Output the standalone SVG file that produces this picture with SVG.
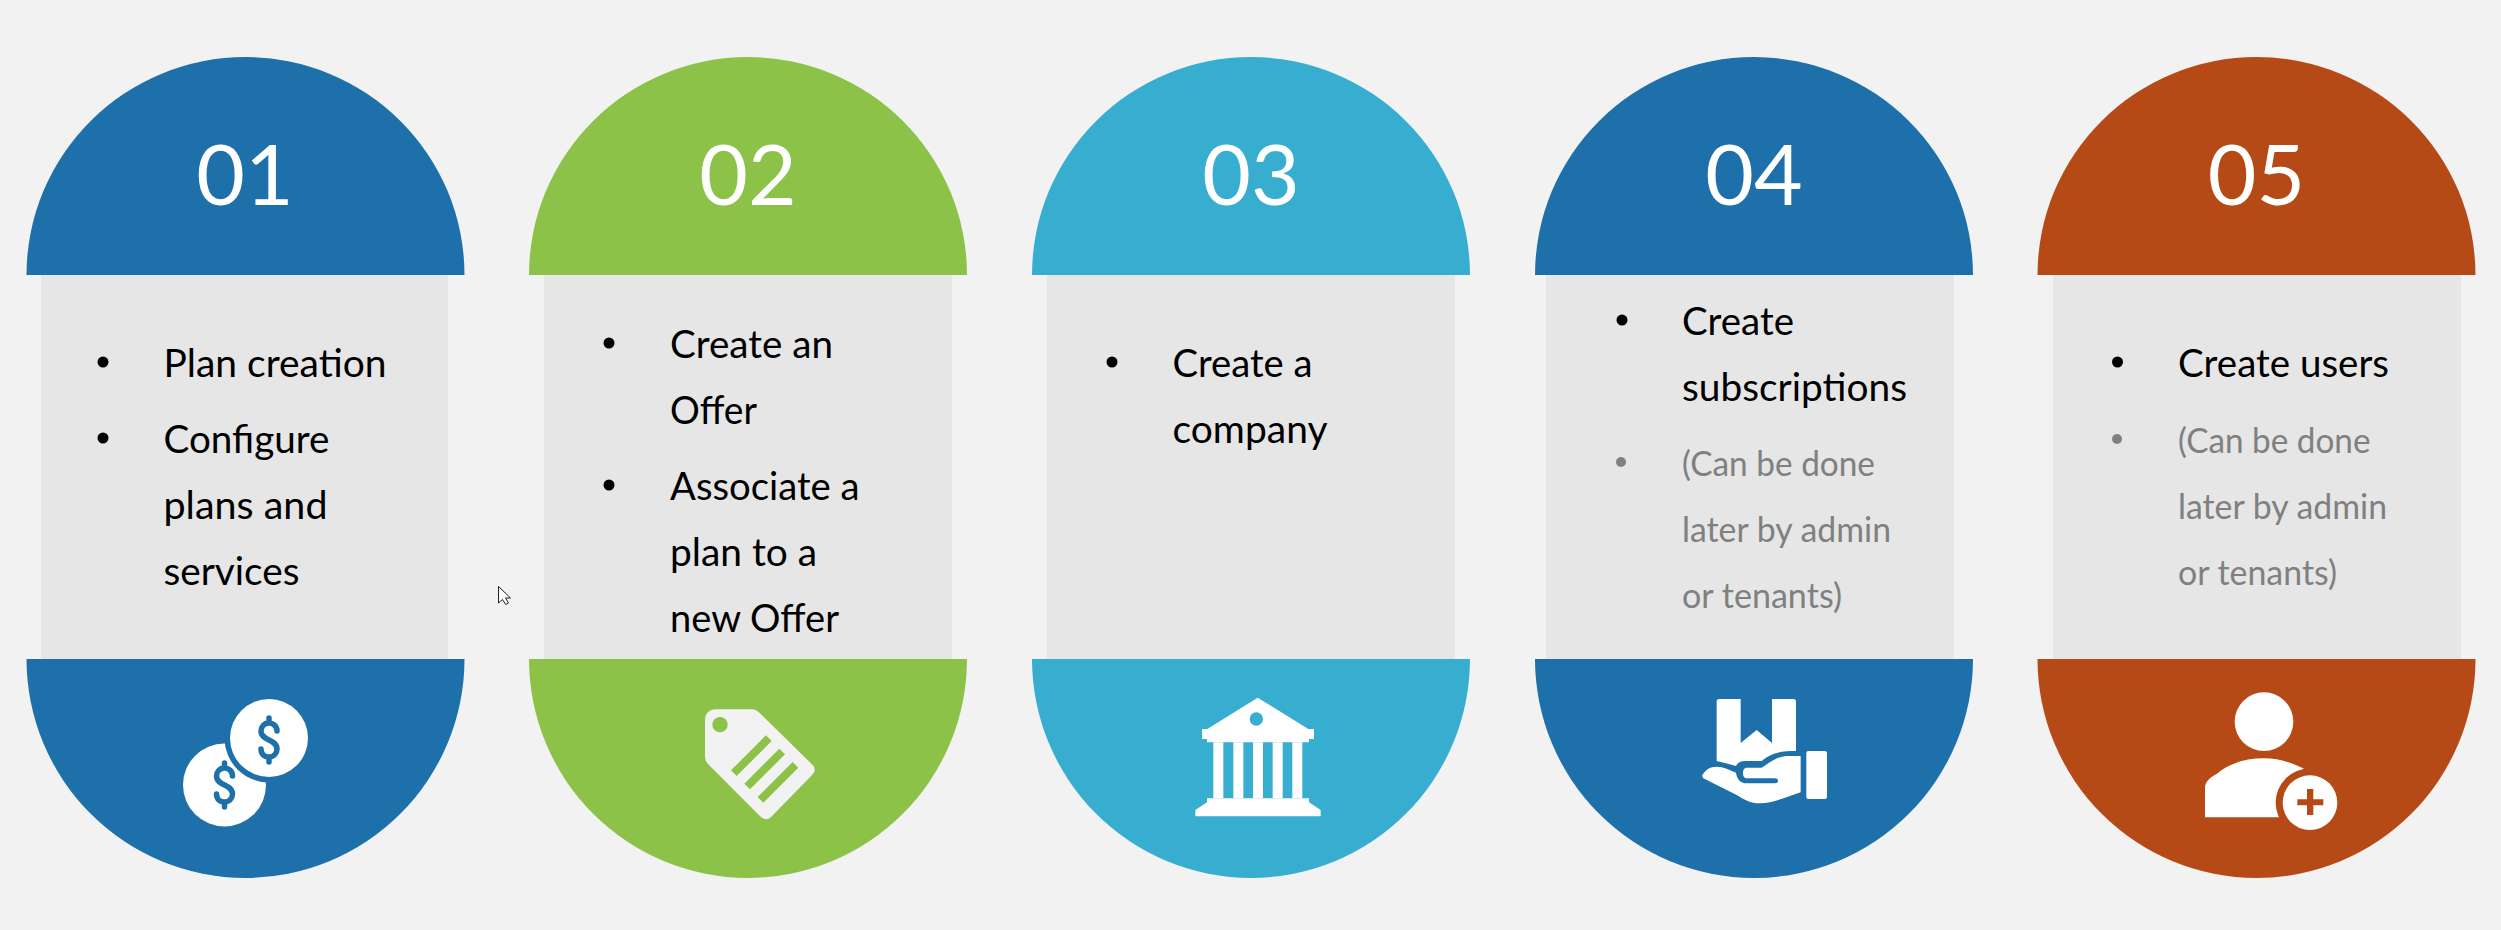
<svg xmlns="http://www.w3.org/2000/svg" width="2501" height="930" viewBox="0 0 2501 930">
<style>
text{font-family:"Lato","Liberation Sans",sans-serif}
.n{font-size:84px;fill:#fff;text-anchor:middle}
.t{font-size:38px;fill:#000}
.g{font-size:34px;fill:#808080}
.p{fill:#e6e6e6}
.w{fill:#fff}
.blue{fill:#1d70a9}.green{fill:#8cc248}.cyan{fill:#37aed0}.rust{fill:#b64a17}
.bk{fill:#000}.gb{fill:#808080}
</style>
<defs>
<path id="top" d="M-219,275A219,218 0 0 1 219,275Z"/>
<path id="bot" d="M-219,659A219,219 0 0 0 219,659Z"/>
<g id="dollar" fill="none" stroke="#1d70a9" stroke-width="5.500" stroke-linecap="round">
<path d="M0,-22V-17M0,17V22M8,-9C8,-14 4,-17 0,-17C-5,-17 -8,-13 -8,-9C-8,-4 -4,-2 0,0C4,2 8,4 8,9C8,13 5,17 0,17C-5,17 -8,14 -8,9"/>
</g>
</defs>
<rect width="2501" height="930" fill="#f2f2f2"/>

<g id="step-01">
<rect class="p" x="41" y="275" width="407" height="384"/>
<use href="#top" x="245.500" class="blue"/><use href="#bot" x="245.500" class="blue"/>
<text class="n" x="245" y="205">01</text>
<circle class="bk" cx="103" cy="362" r="5.500"/>
<text class="t" x="163.500" y="377" textLength="223" lengthAdjust="spacingAndGlyphs">Plan creation</text>
<circle class="bk" cx="103" cy="438" r="5.500"/>
<text class="t" x="163.500" y="453" textLength="166" lengthAdjust="spacingAndGlyphs">Configure</text>
<text class="t" x="163.500" y="519" textLength="164" lengthAdjust="spacingAndGlyphs">plans and</text>
<text class="t" x="163.500" y="585" textLength="136" lengthAdjust="spacingAndGlyphs">services</text>
<g id="icon-coins">
<circle class="w" cx="224.500" cy="785" r="41.500"/>
<circle class="blue" cx="269" cy="738" r="44.500"/>
<circle class="w" cx="269" cy="738" r="39"/>
<use href="#dollar" x="224.500" y="785"/>
<use href="#dollar" x="269" y="740"/>
</g>
</g>

<g id="step-02">
<rect class="p" x="544" y="275" width="408" height="384"/>
<use href="#top" x="748" class="green"/><use href="#bot" x="748" class="green"/>
<text class="n" x="748" y="205">02</text>
<circle class="bk" cx="609" cy="343" r="5.500"/>
<text class="t" x="670" y="358" textLength="163" lengthAdjust="spacingAndGlyphs">Create an</text>
<text class="t" x="670" y="424" textLength="87" lengthAdjust="spacingAndGlyphs">Offer</text>
<circle class="bk" cx="609" cy="485" r="5.500"/>
<text class="t" x="670" y="500" textLength="189.500" lengthAdjust="spacingAndGlyphs">Associate a</text>
<text class="t" x="670" y="566" textLength="147" lengthAdjust="spacingAndGlyphs">plan to a</text>
<text class="t" x="670" y="632" textLength="169" lengthAdjust="spacingAndGlyphs">new Offer</text>
<g id="icon-tag" transform="translate(680 690) scale(.3333)">
<path fill="#f2f2f2" d="M110,58H218Q228,58 236,66L397,224Q412,238 397,254L274,380Q258,395 242,380L84,222Q75,213 75,200V93Q75,58 110,58Z"/>
<circle class="green" cx="120" cy="104" r="23"/>
<path class="green" d="M258,136L275,153L170,258L153,241ZM298,176L315,193L210,298L193,281ZM338,216L355,233L250,338L233,321Z"/>
</g>
</g>

<g id="step-03">
<rect class="p" x="1047" y="275" width="408" height="384"/>
<use href="#top" x="1251" class="cyan"/><use href="#bot" x="1251" class="cyan"/>
<text class="n" x="1251" y="205">03</text>
<circle class="bk" cx="1112" cy="362" r="5.500"/>
<text class="t" x="1172.500" y="376.500" textLength="140" lengthAdjust="spacingAndGlyphs">Create a</text>
<text class="t" x="1172.500" y="442.500" textLength="155" lengthAdjust="spacingAndGlyphs">company</text>
<g id="icon-bank" transform="translate(1170 685) scale(.3333)">
<path class="w" d="M263,38L415,132H432V162H417V172H111V162H96V132H112Z"/>
<circle class="cyan" cx="259" cy="102" r="20"/>
<path class="w" d="M130,172H160V340H130ZM190,172H220V340H190ZM249,172H279V340H249ZM308,172H338V340H308ZM367,172H397V340H367Z"/>
<path class="w" d="M111,340H417V352L452,375V394H76V375L111,352Z"/>
</g>
</g>

<g id="step-04">
<rect class="p" x="1546" y="275" width="408" height="384"/>
<use href="#top" x="1754" class="blue"/><use href="#bot" x="1754" class="blue"/>
<text class="n" x="1754" y="205">04</text>
<circle class="bk" cx="1622" cy="320" r="5.500"/>
<text class="t" x="1682" y="335" textLength="112" lengthAdjust="spacingAndGlyphs">Create</text>
<text class="t" x="1682" y="401" textLength="225" lengthAdjust="spacingAndGlyphs">subscriptions</text>
<circle class="gb" cx="1621" cy="462" r="5"/>
<text class="g" x="1682" y="476" textLength="193" lengthAdjust="spacingAndGlyphs">(Can be done</text>
<text class="g" x="1682" y="542" textLength="209" lengthAdjust="spacingAndGlyphs">later by admin</text>
<text class="g" x="1682" y="608" textLength="160" lengthAdjust="spacingAndGlyphs">or tenants)</text>
<g id="icon-hand" transform="translate(1680 685) scale(.3333)">
<path class="w" d="M118,42H182V174L230,135L276,174V42H340Q348,42 348,50V198C300,198 270,205 245,228H195C180,228 172,235 168,243C150,238 130,232 110,228V50Q110,42 118,42Z"/>
<path class="w" d="M66,272C75,255 90,245 110,245C130,245 150,255 168,263C170,280 180,295 200,295H285C297,295 297,280 285,280H200C185,280 185,248 200,248H245C265,235 290,215 320,213H362V322C320,335 280,355 240,355C210,355 195,345 170,330L70,280Z"/>
<rect class="w" x="379" y="198" width="62" height="144" rx="6"/>
</g>
</g>

<g id="step-05">
<rect class="p" x="2053" y="275" width="408" height="384"/>
<use href="#top" x="2256.500" class="rust"/><use href="#bot" x="2256.500" class="rust"/>
<text class="n" x="2256.500" y="205">05</text>
<circle class="bk" cx="2117.500" cy="362" r="5.500"/>
<text class="t" x="2178" y="377" textLength="211" lengthAdjust="spacingAndGlyphs">Create users</text>
<circle class="gb" cx="2117" cy="439" r="5"/>
<text class="g" x="2178" y="453" textLength="192.500" lengthAdjust="spacingAndGlyphs">(Can be done</text>
<text class="g" x="2178" y="519" textLength="209" lengthAdjust="spacingAndGlyphs">later by admin</text>
<text class="g" x="2178" y="585" textLength="159" lengthAdjust="spacingAndGlyphs">or tenants)</text>
<g id="icon-user" transform="translate(2180 680) scale(.3333)">
<circle class="w" cx="252" cy="125" r="88"/>
<path class="w" d="M75,412V325C75,305 90,292 110,282C150,248 200,235 252,235C300,235 340,250 373,267L340,340L297,412Z"/>
<circle class="rust" cx="390" cy="368" r="103"/>
<circle class="w" cx="390" cy="368" r="82"/>
<path class="rust" d="M381,327H400V358H430V376H400V405H381V376H352V358H381Z"/>
</g>
</g>

<path id="cursor" d="M498.500,586.500V603L502.500,599.500L505.700,604.500L508.500,603L505.500,598H510.500Z" fill="#fff" stroke="#222" stroke-width="1"/>
</svg>
